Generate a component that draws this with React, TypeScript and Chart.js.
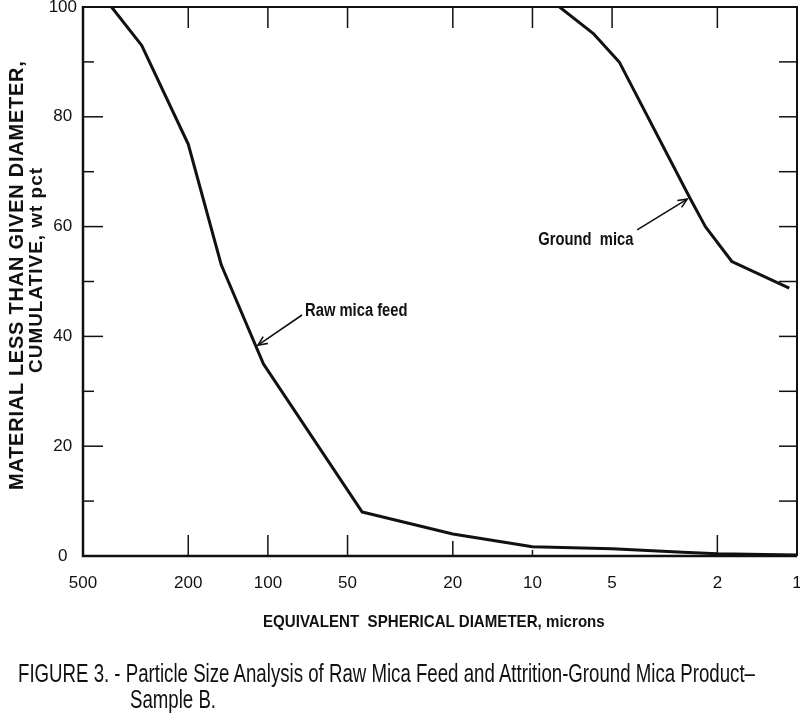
import React, { useEffect, useRef } from 'react';
import { Chart, registerables } from 'chart.js';

Chart.register(...registerables);

// ---- data ----
const X_TICKS = [500, 200, 100, 50, 20, 10, 5, 2, 1];
const Y_TICKS = [0, 20, 40, 60, 80, 100];

const RAW_X = [390, 300, 200, 150, 104, 44, 20, 10, 5, 2.7, 2, 1];
const RAW_Y = [100, 93, 75, 53, 35, 8, 4, 1.7, 1.3, 0.7, 0.4, 0.2];

const GROUND_X = [7.9, 5.9, 4.7, 2.54, 2.22, 1.76, 1.07];
const GROUND_Y = [100, 95.2, 90, 65.2, 60, 53.6, 48.8];

const TOP_TICKS = [200, 100, 50, 20, 10, 5, 2];
const BOTTOM_TICKS = [200, 100, 50, 20, 10, 2];
const LEFT_MAJOR = [20, 40, 60, 80];
const LEFT_MINOR = [10, 30, 50, 70, 90];
const RIGHT_TICKS = [10, 20, 30, 40, 50, 60, 70, 80, 90];

const ANNOTATIONS = [
  { text: 'Raw mica feed', textX: 72.4, textY: 43.8, tailX: 74.3, tailY: 43.9, tipX: 109, tipY: 38.4 },
  { text: 'Ground  mica', textX: 9.5, textY: 56.6, tailX: 4.02, tailY: 59.4, tipX: 2.6, tipY: 65.0 },
];

const Y_TITLE_1 = 'MATERIAL LESS THAN GIVEN DIAMETER,';
const Y_TITLE_2 = 'CUMULATIVE, wt pct';
const X_TITLE = 'EQUIVALENT  SPHERICAL DIAMETER, microns';
const CAPTION_1 = 'FIGURE 3. - Particle Size Analysis of Raw Mica Feed and Attrition-Ground Mica Product\u2013';
const CAPTION_2 = 'Sample B.';

const FAMILY = '"Liberation Sans", Arial, Helvetica, sans-serif';
const INK = '#111';

let mctx: CanvasRenderingContext2D | null = null;
function measure(text: string, font: string): number {
  if (!mctx) mctx = document.createElement('canvas').getContext('2d');
  if (!mctx) return text.length * 10;
  mctx.font = font;
  return mctx.measureText(text).width;
}

const decorPlugin = {
  id: 'decor',
  afterDatasetsDraw(chart: any) {
    const { ctx, chartArea: a, scales } = chart;
    const x = scales.x;
    const y = scales.y;
    ctx.save();
    ctx.strokeStyle = INK;
    ctx.fillStyle = INK;
    ctx.lineCap = 'butt';
    // frame
    ctx.lineWidth = 2;
    ctx.beginPath();
    ctx.moveTo(a.left, a.top);
    ctx.lineTo(a.right, a.top);
    ctx.lineTo(a.right, a.bottom);
    ctx.stroke();
    ctx.lineWidth = 2.5;
    ctx.beginPath();
    ctx.moveTo(a.left, a.top - 1);
    ctx.lineTo(a.left, a.bottom);
    ctx.lineTo(a.right, a.bottom);
    ctx.stroke();

    // inward tick marks
    ctx.lineWidth = 1.5;
    const vtick = (v: number, y0: number, len: number) => {
      const px = x.getPixelForValue(v);
      ctx.beginPath();
      ctx.moveTo(px, y0);
      ctx.lineTo(px, y0 + len);
      ctx.stroke();
    };
    const htick = (v: number, x0: number, len: number) => {
      const py = y.getPixelForValue(v);
      ctx.beginPath();
      ctx.moveTo(x0, py);
      ctx.lineTo(x0 + len, py);
      ctx.stroke();
    };
    TOP_TICKS.forEach((v) => vtick(v, a.top, 21));
    BOTTOM_TICKS.forEach((v) => vtick(v, a.bottom, v === 20 ? -15 : v === 10 ? -6 : -21));
    LEFT_MAJOR.forEach((v) => htick(v, a.left, 20));
    LEFT_MINOR.forEach((v) => htick(v, a.left, 11));
    RIGHT_TICKS.forEach((v) => htick(v, a.right, -18));

    // annotations
    ctx.font = 'bold 18px ' + FAMILY;
    ctx.textBaseline = 'alphabetic';
    ctx.textAlign = 'left';
    ANNOTATIONS.forEach((n) => {
      const tx = x.getPixelForValue(n.textX);
      const ty = y.getPixelForValue(n.textY);
      ctx.save();
      ctx.translate(tx, ty);
      ctx.scale(0.82, 1);
      ctx.fillText(n.text, 0, 0);
      ctx.restore();
      const x1 = x.getPixelForValue(n.tailX);
      const y1 = y.getPixelForValue(n.tailY);
      const x2 = x.getPixelForValue(n.tipX);
      const y2 = y.getPixelForValue(n.tipY);
      ctx.lineWidth = 1.6;
      ctx.beginPath();
      ctx.moveTo(x1, y1);
      ctx.lineTo(x2, y2);
      ctx.stroke();
      const ang = Math.atan2(y2 - y1, x2 - x1);
      const L = 10;
      const sp = 0.42;
      ctx.beginPath();
      ctx.moveTo(x2 - L * Math.cos(ang - sp), y2 - L * Math.sin(ang - sp));
      ctx.lineTo(x2, y2);
      ctx.lineTo(x2 - L * Math.cos(ang + sp), y2 - L * Math.sin(ang + sp));
      ctx.stroke();
    });
    ctx.restore();
  },
};

type FitProps = {
  text: string;
  left: number;
  top: number;
  width?: number;
  size: number;
  weight?: number;
  spread?: boolean;
  scale?: number;
};

function FitText({ text, left, top, width, size, weight = 400, spread = false, scale }: FitProps) {
  const font = `${weight} ${size}px ${FAMILY}`;
  const natural = measure(text, font);
  const style: React.CSSProperties = {
    position: 'absolute',
    left,
    top,
    whiteSpace: 'pre',
    fontFamily: FAMILY,
    fontSize: size,
    fontWeight: weight,
    lineHeight: 1,
    color: INK,
    transformOrigin: '0 0',
  };
  if (spread && width) {
    style.letterSpacing = (width - natural) / text.length + 'px';
  } else if (scale) {
    style.transform = `scaleX(${scale})`;
  } else if (width) {
    style.transform = `scaleX(${width / natural})`;
  }
  return <span style={style}>{text}</span>;
}

function RotatedTitle({ text, cx, cy, length, size }: { text: string; cx: number; cy: number; length: number; size: number }) {
  return (
    <div style={{ position: 'absolute', left: cx, top: cy, transform: 'rotate(-90deg)', transformOrigin: '0 0' }}>
      <FitText text={text} left={-length / 2} top={-0.47 * size} width={length} size={size} weight={700} spread />
    </div>
  );
}

export default function App() {
  const ref = useRef<HTMLCanvasElement>(null);

  useEffect(() => {
    if (!ref.current) return;
    const chart = new Chart(ref.current, {
      type: 'line',
      data: {
        datasets: [
          {
            label: 'Raw mica feed',
            data: RAW_X.map((v, i) => ({ x: v, y: RAW_Y[i] })),
            borderColor: INK,
            borderWidth: 3,
            pointRadius: 0,
            tension: 0,
            fill: false,
            borderJoinStyle: 'round',
          },
          {
            label: 'Ground mica',
            data: GROUND_X.map((v, i) => ({ x: v, y: GROUND_Y[i] })),
            borderColor: INK,
            borderWidth: 3,
            pointRadius: 0,
            tension: 0,
            fill: false,
            borderJoinStyle: 'round',
          },
        ],
      },
      options: {
        responsive: false,
        animation: false,
        events: [],
        layout: { padding: { top: 27, right: 23, left: 0, bottom: 0 } },
        plugins: { legend: { display: false }, tooltip: { enabled: false }, title: { display: false } },
        scales: {
          x: {
            type: 'logarithmic',
            min: 1,
            max: 500,
            reverse: true,
            position: 'bottom',
            grid: { display: false, drawTicks: false },
            border: { display: false },
            afterBuildTicks: (s: any) => {
              s.ticks = X_TICKS.map((v) => ({ value: v }));
            },
            afterFit: (s: any) => {
              s.height = 124;
            },
            ticks: {
              autoSkip: false,
              maxRotation: 0,
              minRotation: 0,
              padding: 17,
              color: INK,
              font: { family: FAMILY, size: 17 },
              callback: (v: any) => String(v),
            },
          },
          y: {
            type: 'linear',
            min: 0,
            max: 100,
            grid: { display: false, drawTicks: false },
            border: { display: false },
            afterBuildTicks: (s: any) => {
              s.ticks = Y_TICKS.map((v) => ({ value: v }));
            },
            afterFit: (s: any) => {
              s.width = 83;
            },
            ticks: {
              padding: 6,
              crossAlign: 'center',
              color: INK,
              font: { family: FAMILY, size: 17 },
              callback: (v: any) => String(v),
            },
          },
        },
      } as any,
      plugins: [decorPlugin],
    });
    return () => chart.destroy();
  }, []);

  const capFont = `400 25px ${FAMILY}`;
  const capScale = 739 / measure(CAPTION_1, capFont);

  return (
    <div style={{ position: 'absolute', left: 0, top: 0, width: 800, height: 720, overflow: 'hidden', background: '#fff' }}>
      <canvas ref={ref} width={820} height={700} style={{ position: 'absolute', left: 0, top: -20, width: 820, height: 700 }} />
      <RotatedTitle text={Y_TITLE_1} cx={15} cy={275} length={430} size={20} />
      <RotatedTitle text={Y_TITLE_2} cx={35} cy={270} length={206} size={19} />
      <FitText text={X_TITLE} left={263} top={613} width={342} size={17} weight={700} />
      <FitText text={CAPTION_1} left={18} top={661} size={25} scale={capScale} />
      <FitText text={CAPTION_2} left={130} top={687} size={25} scale={capScale} />
    </div>
  );
}
